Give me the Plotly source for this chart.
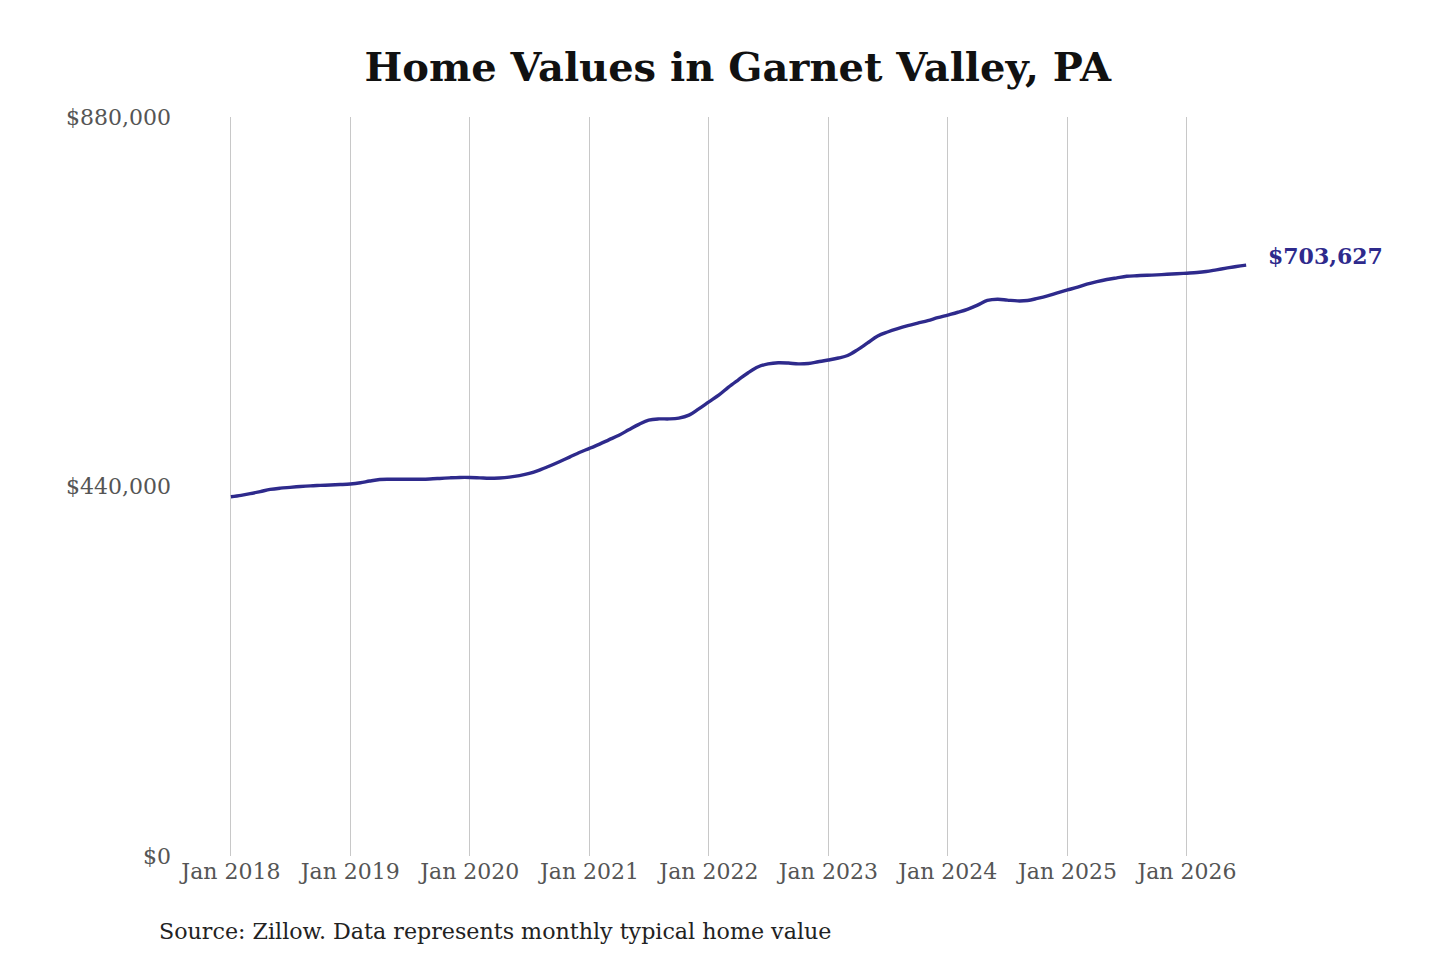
import pandas as pd
import plotly.graph_objs as go

# monthly typical home value, Jan 2018 .. Jul 2026 (thousands of $)
start_month = "2018-01-01"
values_k = [
	# 2018
	427.8, 429.5, 431.5, 434.0, 436.5, 438.0, 439.0, 440.0, 440.8, 441.3, 441.8, 442.3,
	# 2019
	443.0, 444.5, 446.5, 448.3, 448.6, 448.6, 448.6, 448.7, 449.0, 449.6, 450.3, 450.8,
	# 2020
	450.8, 450.3, 449.8, 450.2, 451.2, 453.0, 455.5, 459.5, 464.4, 469.5, 475.0, 480.5,
	# 2021
	485.4, 490.5, 495.5, 501.0, 507.5, 514.0, 519.0, 520.5, 520.5, 521.5, 525.0, 532.5,
	# 2022
	540.8, 549.0, 558.0, 567.0, 575.5, 582.6, 586.0, 587.4, 587.0, 586.0, 586.5, 588.5,
	# 2023
	590.6, 593.0, 596.0, 603.0, 611.0, 619.2, 624.0, 628.0, 631.5, 634.5, 637.5, 641.0,
	# 2024
	644.2, 647.5, 651.0, 656.0, 661.5, 663.0, 662.0, 661.0, 661.5, 664.0, 667.0, 670.5,
	# 2025
	674.0, 677.5, 681.0, 684.0, 686.5, 688.5, 690.3, 691.0, 691.5, 692.0, 692.7, 693.3,
	# 2026
	694.0, 694.8, 696.0, 698.0, 700.0, 702.0, 703.627,
]
y_ticks = [0, 440000, 880000]
y_tick_labels = ["$0", "$440,000", "$880,000"]
x_tick_years = list(range(2018, 2027))

dates = pd.date_range(start_month, periods=len(values_k), freq="MS")
values = [v * 1000 for v in values_k]
line_color = "#2e2a8c"
serif = "DejaVu Serif"

fig = go.Figure()
fig.add_trace(go.Scatter(x=dates, y=values, mode="lines",
						 line={"color": line_color, "width": 3.4, "shape": "spline"},
						 hoverinfo="x+y", showlegend=False))

last_label = "$" + format(round(values[-1]), ",")
fig.add_annotation(x=dates[-1], y=values[-1], text="<b>" + last_label + "</b>",
				   showarrow=False, xanchor="left", yanchor="middle", xshift=20, yshift=9,
				   font={"family": serif, "size": 22, "color": line_color})
fig.add_annotation(xref="paper", yref="paper", x=-0.0135, y=-0.1015,
				   text="Source: Zillow. Data represents monthly typical home value",
				   showarrow=False, xanchor="left", yanchor="middle",
				   font={"family": serif, "size": 22.2, "color": "#222222"})

# x range padded so Jan 2018 sits a bit right of the plot's left edge
x_lo = pd.Timestamp("2018-01-01") - pd.Timedelta(days=180)
x_hi = pd.Timestamp("2026-01-01") + pd.Timedelta(days=315)

fig.update_layout(
	width=1424, height=944,
	paper_bgcolor="white", plot_bgcolor="white",
	margin=dict(l=164, r=142, t=109, b=96),
	title=dict(text="<b>Home Values in Garnet Valley, PA</b>", x=0.506, xref="paper",
			   y=0.9375, yanchor="middle",
			   font={"family": serif, "size": 40, "color": "#111111"}),
	xaxis=dict(range=[x_lo, x_hi], tickmode="array",
			   tickvals=[pd.Timestamp(f"{y}-01-01") for y in x_tick_years],
			   ticktext=[f"Jan {y}" for y in x_tick_years],
			   showgrid=True, gridcolor="#c8c8c8", gridwidth=1,
			   zeroline=False, showline=False, ticks="",
			   tickfont={"family": serif, "size": 22, "color": "#555555"}),
	yaxis=dict(range=[0, 880000], tickmode="array", tickvals=y_ticks,
			   ticktext=y_tick_labels, showgrid=False, zeroline=False,
			   showline=False, ticks="",
			   tickfont={"family": serif, "size": 22, "color": "#555555"}),
)

fig.write_html("out.html")
